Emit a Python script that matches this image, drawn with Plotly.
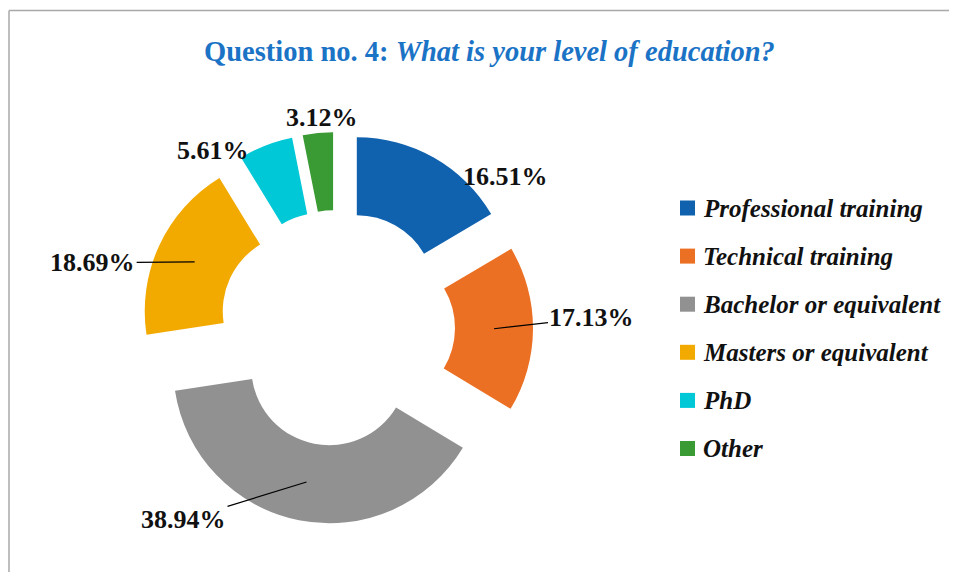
import numpy as np
import plotly.graph_objects as go

# ---------------- data ----------------
categories = ["Professional training", "Technical training", "Bachelor or equivalent",
              "Masters or equivalent", "PhD", "Other"]
values = [16.51, 17.13, 38.94, 18.69, 5.61, 3.12]
colors = ["#1062AF", "#EC7023", "#919191", "#F3AA00", "#00C8D7", "#3A9A34"]
title_main = "Question no. 4:"
title_question = "What is your level of education?"

# ---------------- layout constants ----------------
WIN_W, WIN_H = 957, 580
OFF = 8                      # page body margin
W, H = WIN_W - OFF, WIN_H - 2 * OFF
FONT = "Liberation Serif"
pull = 0.256
hole = 0.5


def px_x(x):   # window pixel -> paper x
    return (x - OFF) / W


def px_y(y):   # window pixel -> paper y
    return 1 - (y - OFF) / H


dom_x = [px_x(141), px_x(533)]
dom_y = [px_y(524), px_y(132)]

# label style: (showarrow, dx, dy) offsets in pixels from slice ring middle
label_style = [
    (False, 91, -15),
    (True, 98, -11),
    (True, -123, 38),
    (True, -102, 1),
    (False, -67, -31),
    (False, 0, -54),
]

fig = go.Figure()
fig.add_trace(go.Pie(
    labels=categories,
    values=values,
    sort=False,
    direction="clockwise",
    rotation=0,
    hole=hole,
    pull=[pull] * len(values),
    marker=dict(colors=colors, line=dict(width=0)),
    textinfo="none",
    showlegend=False,
    domain=dict(x=dom_x, y=dom_y),
))

# geometry of the pie in figure pixels (same rule plotly uses)
cx = (dom_x[0] + dom_x[1]) / 2 * W
cy = (1 - (dom_y[0] + dom_y[1]) / 2) * H
half = min((dom_x[1] - dom_x[0]) * W, (dom_y[1] - dom_y[0]) * H) / 2
R = half / (1 + pull)
r_mid = R * (1 + hole) / 2

vals = np.array(values, dtype=float)
cum = np.cumsum(vals) / vals.sum()
mid_frac = cum - vals / vals.sum() / 2
theta = mid_frac * 2 * np.pi  # clockwise from 12 o'clock

annotations = []
for v, th, (arrow, dx, dy) in zip(values, theta, label_style):
    ux, uy = np.sin(th), -np.cos(th)
    px = cx + (R * pull + r_mid) * ux
    py = cy + (R * pull + r_mid) * uy
    txt = f"<b>{v:.2f}%</b>"
    if arrow:
        annotations.append(dict(
            x=px / W, y=1 - py / H, xref="paper", yref="paper",
            text=txt, showarrow=True, arrowhead=0, arrowwidth=1.2,
            arrowcolor="#000000", ax=dx, ay=dy, standoff=0,
            font=dict(family=FONT, size=26, color="#111111"),
        ))
    else:
        annotations.append(dict(
            x=px / W, y=1 - py / H, xref="paper", yref="paper",
            text=txt, showarrow=False, xshift=dx, yshift=-dy,
            xanchor="center", yanchor="middle",
            font=dict(family=FONT, size=26, color="#111111"),
        ))

# title
annotations.append(dict(
    x=px_x(489), y=px_y(51), xref="paper", yref="paper",
    text=f"<b>{title_main} <i>{title_question}</i></b>", showarrow=False,
    xanchor="center", yanchor="middle",
    font=dict(family=FONT, size=28.5, color="#1B73C6"),
))

# manual legend
shapes = []
leg_x0, leg_y0, leg_dy, sq = 680, 208, 48.1, 15
for i, (name, col) in enumerate(zip(categories, colors)):
    yc = leg_y0 + i * leg_dy
    shapes.append(dict(type="rect", xref="paper", yref="paper",
                       x0=px_x(leg_x0), x1=px_x(leg_x0 + sq),
                       y0=px_y(yc + sq / 2), y1=px_y(yc - sq / 2),
                       fillcolor=col, line=dict(width=0)))
    annotations.append(dict(
        x=px_x(leg_x0 + sq + 6), y=px_y(yc), xref="paper", yref="paper",
        text=f"<b><i>{name}</i></b>", showarrow=False,
        xanchor="left", yanchor="middle",
        font=dict(family=FONT, size=25, color="#111111"),
    ))

# chart-area border (only left and top edges are visible)
border = dict(color="#A9A9A9", width=1.5)
shapes.append(dict(type="line", xref="paper", yref="paper",
                   x0=px_x(9), x1=px_x(9), y0=0, y1=px_y(10.5), line=border))
shapes.append(dict(type="line", xref="paper", yref="paper",
                   x0=px_x(9), x1=1, y0=px_y(10.5), y1=px_y(10.5), line=border))

fig.update_layout(
    width=W, height=H,
    margin=dict(l=0, r=0, t=0, b=0),
    paper_bgcolor="white", plot_bgcolor="white",
    annotations=annotations, shapes=shapes,
    font=dict(family=FONT),
)

fig.write_html("out.html")
